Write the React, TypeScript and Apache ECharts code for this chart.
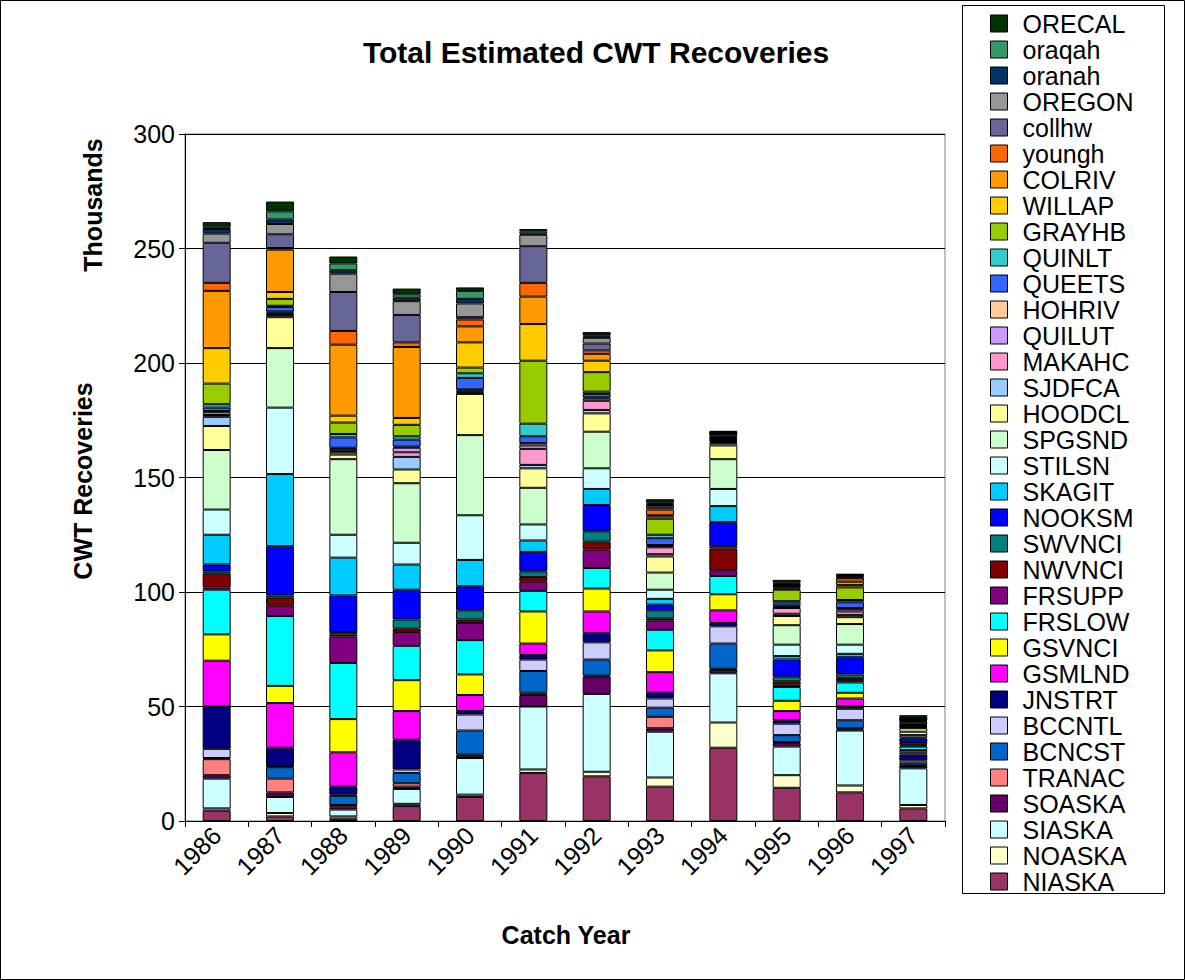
import React, { useEffect, useRef } from "react";
import * as echarts from "echarts";

const years = ["1986", "1987", "1988", "1989", "1990", "1991", "1992", "1993", "1994", "1995", "1996", "1997"];

// values in thousands, bottom of stack first
const NIASKA = [4.5, 2, 1, 6.5, 10.5, 21, 19.5, 15, 32, 14.5, 12.5, 5.5];
const NOASKA = [1, 1.5, 1, 1, 1, 1.5, 2, 4, 11, 5.5, 3, 1.5];
const SIASKA = [13, 7, 3, 6.5, 16, 27.5, 34, 20, 21.5, 12.5, 24, 16];
const SOASKA = [1.5, 2, 1, 1, 1, 5, 7.5, 1.5, 1.5, 1.5, 0.5, 1];
const TRANAC = [7, 6, 1, 1.5, 0.5, 1, 0.5, 5, 0.5, 0.5, 0.5, 0.3];
const BCNCST = [0.5, 5, 4, 4.5, 10.5, 9.5, 7, 4, 11, 3, 3.5, 1.2];
const BCCNTL = [4, 0.5, 0.5, 1.5, 7, 5, 7.5, 4, 7.5, 5, 5, 1];
const JNSTRT = [18.5, 8, 3.5, 13, 1.5, 2, 4, 2.5, 1.5, 1.5, 1, 2.5];
const GSMLND = [20, 19.5, 15, 12.5, 7, 5, 9.5, 9, 5.5, 4, 3.5, 1];
const GSVNCI = [11.5, 7.5, 14.5, 13.5, 9, 14, 10, 9.5, 7, 4.5, 2.5, 1];
const FRSLOW = [19.5, 30.5, 24.5, 15, 15, 9, 9, 9, 8, 6, 4.5, 1.5];
const FRSUPP = [1, 4.5, 11.5, 6, 7.5, 4, 8, 4, 2.5, 1, 1, 0.5];
const NWVNCI = [6, 3.5, 1, 1.5, 1.5, 2, 3.5, 1, 9.5, 1.5, 1, 0.5];
const SWVNCI = [1, 1, 1, 4, 4, 2.5, 4.5, 3.5, 1, 2, 1.5, 1];
const NOOKSM = [3, 21.5, 16, 13, 10.5, 8.5, 11.5, 2.5, 10.5, 7.5, 7.5, 1.5];
const SKAGIT = [13, 31.5, 16.5, 11, 11.5, 5, 7, 2.5, 7, 1.5, 1.5, 0.5];
const STILSN = [11, 29, 10, 9.5, 19.5, 7, 9, 4, 7.5, 5, 4, 1];
const SPGSND = [26, 26, 33, 26, 35, 16, 16, 7.5, 13, 8.5, 9, 1.5];
const HOODCL = [10.5, 13.5, 2, 6, 18, 8.5, 8, 7, 6, 4, 3, 1.5];
const SJDFCA = [4, 1, 1, 5.5, 0.5, 1.5, 1.5, 1, 1, 1, 1, 0.3];
const MAKAHC = [0.8, 0.5, 0.5, 2, 0.5, 7, 4, 3, 0.5, 2.5, 1.5, 0.3];
const QUILUT = [1.2, 0.5, 1, 2, 0.5, 1.5, 1, 0.5, 0.5, 0.5, 1, 0.3];
const HOHRIV = [0.5, 0.5, 0.5, 0.5, 0.5, 1, 0.5, 0.5, 0.3, 0.5, 0.5, 0.2];
const QUEETS = [1.5, 2, 4.5, 3, 5, 3, 1.5, 3, 0.5, 1, 2.5, 0.4];
const QUINLT = [1.5, 0.5, 1.5, 1.5, 2, 5.5, 1, 1.5, 0.2, 1, 1, 0.3];
const GRAYHB = [9, 3, 5, 5, 2.5, 27.5, 8.5, 7, 0.3, 5, 5.5, 1];
const WILLAP = [15.5, 3, 3, 3, 11, 16, 5, 1, 0.3, 0.5, 1, 0.3];
const COLRIV = [25, 18.5, 31, 31, 7, 12, 3, 0.5, 0.4, 0.5, 1.5, 0.3];
const youngh = [3.5, 0.7, 6, 2, 3, 6, 1.5, 2.5, 1, 0.5, 1.5, 0.3];
const collhw = [17.5, 6, 17, 12, 1, 16, 3, 1, 0.2, 0.3, 0.3, 0.2];
const OREGON = [4, 4.5, 8, 6, 6, 5, 2.5, 1, 0.2, 0.3, 0.5, 0.2];
const oranah = [2, 2, 1.5, 1.5, 2, 0.5, 0.5, 0.5, 0.2, 0.5, 0.3, 0.2];
const oraqah = [1, 3.5, 3, 1.5, 3.5, 1, 0.5, 0.5, 0.2, 0.5, 0.3, 0.2];
const ORECAL = [2, 4.3, 3, 2.5, 1.5, 1, 1.5, 1.5, 0.6, 1.2, 0.6, 1.2];

const seriesNames = [
  "NIASKA", "NOASKA", "SIASKA", "SOASKA", "TRANAC", "BCNCST", "BCCNTL", "JNSTRT",
  "GSMLND", "GSVNCI", "FRSLOW", "FRSUPP", "NWVNCI", "SWVNCI", "NOOKSM", "SKAGIT",
  "STILSN", "SPGSND", "HOODCL", "SJDFCA", "MAKAHC", "QUILUT", "HOHRIV", "QUEETS",
  "QUINLT", "GRAYHB", "WILLAP", "COLRIV", "youngh", "collhw", "OREGON", "oranah",
  "oraqah", "ORECAL",
];
const seriesValues = [
  NIASKA, NOASKA, SIASKA, SOASKA, TRANAC, BCNCST, BCCNTL, JNSTRT,
  GSMLND, GSVNCI, FRSLOW, FRSUPP, NWVNCI, SWVNCI, NOOKSM, SKAGIT,
  STILSN, SPGSND, HOODCL, SJDFCA, MAKAHC, QUILUT, HOHRIV, QUEETS,
  QUINLT, GRAYHB, WILLAP, COLRIV, youngh, collhw, OREGON, oranah,
  oraqah, ORECAL,
];
const seriesColors = [
  "#993366", "#FFFFCC", "#CCFFFF", "#660066", "#FF8080", "#0066CC", "#CCCCFF", "#000080",
  "#FF00FF", "#FFFF00", "#00FFFF", "#800080", "#800000", "#008080", "#0000FF", "#00CCFF",
  "#CCFFFF", "#CCFFCC", "#FFFF99", "#99CCFF", "#FF99CC", "#CC99FF", "#FFCC99", "#3366FF",
  "#33CCCC", "#99CC00", "#FFCC00", "#FF9900", "#FF6600", "#666699", "#969696", "#003366",
  "#339966", "#003300",
];

const FONT = '"Liberation Sans", Arial, Helvetica, sans-serif';

export default function App() {
  const ref = useRef<HTMLDivElement>(null);

  useEffect(() => {
    if (!ref.current) return;
    const chart = echarts.init(ref.current, null, { renderer: "svg" });

    const series = seriesNames.map((name, i) => ({
      name,
      type: "bar",
      stack: "total",
      barWidth: 28,
      data: seriesValues[i],
      itemStyle: { color: seriesColors[i], borderColor: "#000", borderWidth: 1 },
      emphasis: { disabled: true },
    }));

    const option: any = {
      animation: false,
      backgroundColor: "#fff",
      textStyle: { fontFamily: FONT },
      grid: {
        left: 185,
        right: 240,
        top: 134,
        bottom: 159,
        show: true,
        borderColor: "#808080",
        borderWidth: 1,
        backgroundColor: "#fff",
      },
      xAxis: {
        type: "category",
        data: years,
        axisLine: { show: true, lineStyle: { color: "#000", width: 1 } },
        axisTick: { show: true, length: 6, lineStyle: { color: "#000" } },
        axisLabel: { rotate: 45, fontSize: 25, color: "#000", margin: 10, interval: 0, fontFamily: FONT },
        splitLine: { show: false },
      },
      yAxis: {
        type: "value",
        min: 0,
        max: 300,
        interval: 50,
        axisLine: { show: true, lineStyle: { color: "#000", width: 1 } },
        axisTick: { show: true, length: 6, lineStyle: { color: "#000" } },
        axisLabel: { fontSize: 25, color: "#000", margin: 10, fontFamily: FONT },
        splitLine: { show: true, lineStyle: { color: "#000", width: 1 } },
      },
      legend: {
        orient: "vertical",
        left: 990,
        top: 11,
        padding: 0,
        itemWidth: 17,
        itemHeight: 17,
        itemGap: 1,
        icon: "rect",
        selectedMode: false,
        data: [...seriesNames].reverse(),
        itemStyle: { borderColor: "#000", borderWidth: 1 },
        textStyle: { fontSize: 25, color: "#000", fontFamily: FONT, padding: [0, 0, 0, 10] },
      },
      graphic: [
        {
          type: "rect",
          silent: true,
          shape: { x: 0.5, y: 0.5, width: 1184, height: 979 },
          style: { fill: "none", stroke: "#000", lineWidth: 1 },
        },
        {
          type: "rect",
          silent: true,
          shape: { x: 962.5, y: 5.5, width: 202, height: 888 },
          style: { fill: "none", stroke: "#000", lineWidth: 1 },
        },
        {
          type: "text",
          x: 596,
          y: 52,
          style: {
            text: "Total Estimated CWT Recoveries",
            fontSize: 30,
            fontWeight: "bold",
            fontFamily: FONT,
            fill: "#000",
            align: "center",
            verticalAlign: "middle",
            textAlign: "center",
            textVerticalAlign: "middle",
          },
        },
        {
          type: "text",
          x: 93,
          y: 205,
          rotation: Math.PI / 2,
          style: {
            text: "Thousands",
            fontSize: 25,
            fontWeight: "bold",
            fontFamily: FONT,
            fill: "#000",
            align: "center",
            verticalAlign: "middle",
            textAlign: "center",
            textVerticalAlign: "middle",
          },
        },
        {
          type: "text",
          x: 83,
          y: 481,
          rotation: Math.PI / 2,
          style: {
            text: "CWT Recoveries",
            fontSize: 25,
            fontWeight: "bold",
            fontFamily: FONT,
            fill: "#000",
            align: "center",
            verticalAlign: "middle",
            textAlign: "center",
            textVerticalAlign: "middle",
          },
        },
        {
          type: "text",
          x: 566,
          y: 935,
          style: {
            text: "Catch Year",
            fontSize: 25,
            fontWeight: "bold",
            fontFamily: FONT,
            fill: "#000",
            align: "center",
            verticalAlign: "middle",
            textAlign: "center",
            textVerticalAlign: "middle",
          },
        },
      ],
      series,
    };

    chart.setOption(option);
    return () => chart.dispose();
  }, []);

  return (
    <div
      ref={ref}
      style={{ position: "absolute", left: 0, top: 0, width: 1185, height: 980, background: "#fff" }}
    />
  );
}
